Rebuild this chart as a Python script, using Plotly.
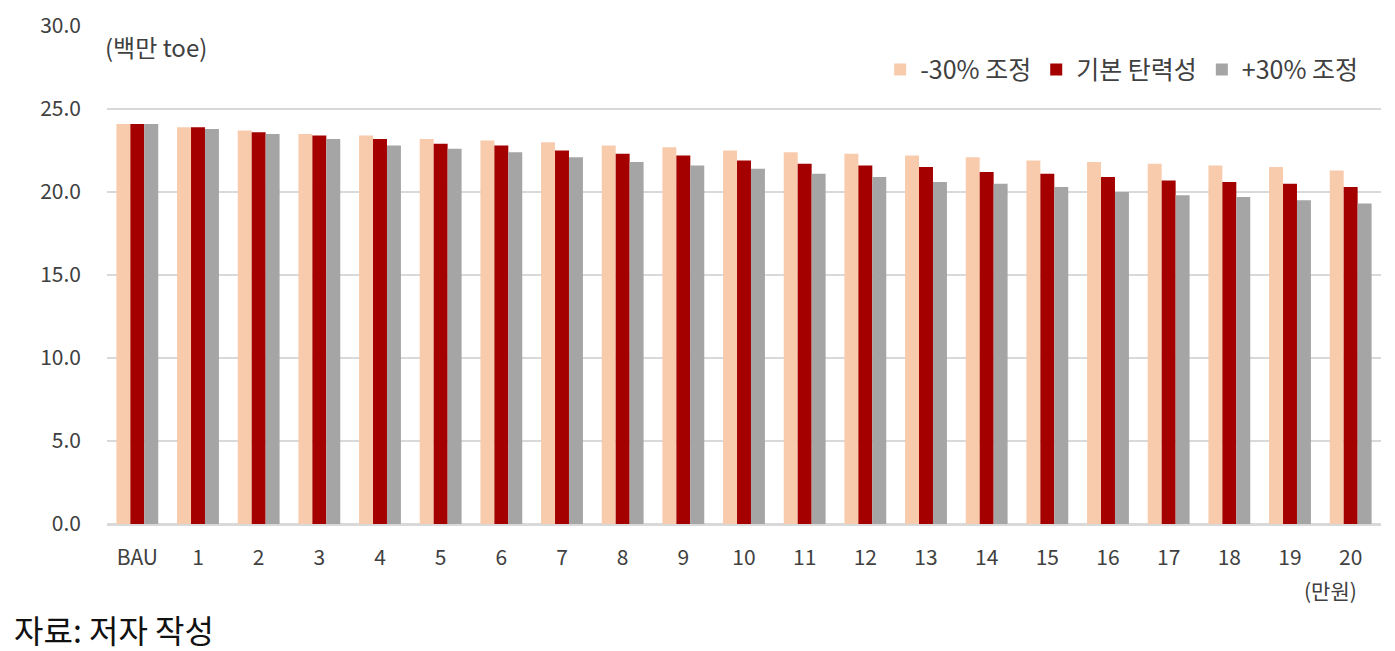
import plotly.graph_objects as go

# 탄력성 조정별 에너지 소비량 (백만 toe)
categories = ["BAU"] + [str(i) for i in range(1, 21)]
minus30 = [24.1, 23.9, 23.7, 23.5, 23.4, 23.2, 23.1, 23.0, 22.8, 22.7, 22.5,
           22.4, 22.3, 22.2, 22.1, 21.9, 21.8, 21.7, 21.6, 21.5, 21.3]
base = [24.1, 23.9, 23.6, 23.4, 23.2, 22.9, 22.8, 22.5, 22.3, 22.2, 21.9,
        21.7, 21.6, 21.5, 21.2, 21.1, 20.9, 20.7, 20.6, 20.5, 20.3]
plus30 = [24.1, 23.8, 23.5, 23.2, 22.8, 22.6, 22.4, 22.1, 21.8, 21.6, 21.4,
          21.1, 20.9, 20.6, 20.5, 20.3, 20.0, 19.8, 19.7, 19.5, 19.3]
y_ticks = [0, 5, 10, 15, 20, 25, 30]

font_family = "Noto Sans CJK KR"
text_color = "#404040"

fig = go.Figure()
fig.add_trace(go.Bar(x=categories, y=minus30, name="-30% 조정",
                     marker_color="#F8CBAD", marker_line_width=0))
fig.add_trace(go.Bar(x=categories, y=base, name="기본 탄력성",
                     marker_color="#A50000", marker_line_width=0))
fig.add_trace(go.Bar(x=categories, y=plus30, name="+30% 조정",
                     marker_color="#A5A5A5", marker_line_width=0))

# the page body adds an 8px margin, so the figure is sized 8px smaller
fig.update_layout(
    width=1387, height=643,
    barmode="group",
    bargap=0.31,
    bargroupgap=0,
    plot_bgcolor="white",
    paper_bgcolor="white",
    margin=dict(l=99, r=14, t=18, b=127, autoexpand=False),
    font=dict(family=font_family, size=21, color=text_color),
    legend=dict(
        orientation="h",
        x=0.986, xanchor="right",
        y=0.912, yanchor="middle",
        font=dict(size=25, color=text_color),
        itemwidth=30,
        traceorder="normal",
        bgcolor="rgba(0,0,0,0)",
    ),
    xaxis=dict(
        automargin=False,
        showgrid=False,
        showline=True, linecolor="#d9d9d9", linewidth=2,
        ticks="", ticklabelstandoff=14,
        tickfont=dict(size=21, color=text_color),
    ),
    yaxis=dict(
        automargin=False,
        range=[0, 30],
        tickvals=y_ticks,
        tickformat=".1f",
        showgrid=True, gridcolor="#d9d9d9", gridwidth=2,
        zeroline=True, zerolinecolor="#d9d9d9", zerolinewidth=2,
        ticks="", ticklabelstandoff=25,
        tickfont=dict(size=21, color=text_color),
    ),
    annotations=[
        dict(text="(백만 toe)", xref="paper", yref="paper", x=-0.003, y=0.958,
             xanchor="left", yanchor="middle", showarrow=False,
             font=dict(size=24, color=text_color)),
        dict(text="(만원)", xref="paper", yref="paper", x=0.983, y=-0.1325,
             xanchor="right", yanchor="middle", showarrow=False,
             font=dict(size=21, color=text_color)),
        dict(text="자료: 저자 작성", xref="paper", yref="paper", x=-0.0745, y=-0.21,
             xanchor="left", yanchor="middle", showarrow=False,
             font=dict(size=32, color="#111111")),
    ],
)

fig.write_html("out.html")
